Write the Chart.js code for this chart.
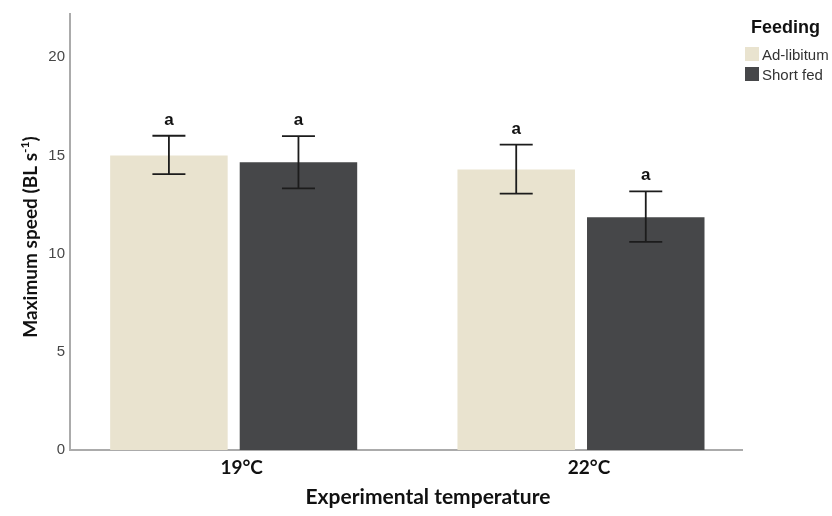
<!DOCTYPE html>
<html>
<head>
<meta charset="utf-8">
<script src="https://cdn.jsdelivr.net/npm/chart.js@4.4.1/dist/chart.umd.min.js"></script>
<style>
  html, body { margin: 0; padding: 0; background: #ffffff; }
  #wrap { width: 832px; height: 516px; }
</style>
</head>
<body>
<div id="wrap"><canvas id="chart" width="832" height="516"></canvas></div>
<script>
// Group means, 95% CI limits and significance letters
const categories = ['19°C', '22°C'];
const seriesNames = ['Ad-libitum', 'Short fed'];
const seriesColors = ['#E9E3CF', '#464749'];
const adLibitum = [15.0, 14.28];
const shortFed = [14.65, 11.85];
const adLibitumUpper = [16.0, 15.55];
const adLibitumLower = [14.05, 13.05];
const shortFedUpper = [15.98, 13.17];
const shortFedLower = [13.32, 10.6];
const adLibitumLetters = ['a', 'a'];
const shortFedLetters = ['a', 'a'];
const yTicks = [0, 5, 10, 15, 20];
const yMax = 22.2;
const xTitle = 'Experimental temperature';
const yTitleParts = ['Maximum speed (BL s', '-1', ')'];
const legendTitle = 'Feeding';

const TITLE_FONT = 'Lato';
const BODY_FONT = '"Liberation Sans", Arial, sans-serif';

function makeSeries(name, color, values, upper, lower, letters) {
  return {
    label: name,
    data: categories.map((c, i) => ({ x: i, y: values[i] })),
    backgroundColor: color,
    borderWidth: 0,
    categoryPercentage: 0.746,
    barPercentage: 0.907,
    upper: upper,
    lower: lower,
    letters: letters
  };
}

const datasets = [
  makeSeries(seriesNames[0], seriesColors[0], adLibitum, adLibitumUpper, adLibitumLower, adLibitumLetters),
  makeSeries(seriesNames[1], seriesColors[1], shortFed, shortFedUpper, shortFedLower, shortFedLetters)
];

// Error bars, letters, legend and axis titles
const decorations = {
  id: 'decorations',
  afterDatasetsDraw(chart) {
    const ctx = chart.ctx;
    const ys = chart.scales.y;
    chart.data.datasets.forEach((ds, di) => {
      const meta = chart.getDatasetMeta(di);
      meta.data.forEach((bar, i) => {
        const top = ys.getPixelForValue(ds.upper[i]);
        const bot = ys.getPixelForValue(ds.lower[i]);
        const cap = 16.5;
        ctx.save();
        ctx.strokeStyle = '#1c1c1c';
        ctx.lineWidth = 1.8;
        ctx.beginPath();
        ctx.moveTo(bar.x, top); ctx.lineTo(bar.x, bot);
        ctx.moveTo(bar.x - cap, top); ctx.lineTo(bar.x + cap, top);
        ctx.moveTo(bar.x - cap, bot); ctx.lineTo(bar.x + cap, bot);
        ctx.stroke();
        ctx.fillStyle = '#111111';
        ctx.font = 'bold 17px ' + BODY_FONT;
        ctx.textAlign = 'center';
        ctx.textBaseline = 'alphabetic';
        ctx.fillText(ds.letters[i], bar.x, top - 11);
        ctx.restore();
      });
    });
  },
  afterDraw(chart) {
    const ctx = chart.ctx;
    ctx.save();

    // legend
    ctx.fillStyle = '#111111';
    ctx.font = 'bold 18px ' + BODY_FONT;
    ctx.textAlign = 'left';
    ctx.textBaseline = 'alphabetic';
    ctx.fillText(legendTitle, 751, 33);
    chart.data.datasets.forEach((ds, i) => {
      const y0 = 47 + i * 20;
      ctx.fillStyle = ds.backgroundColor;
      ctx.fillRect(745, y0, 14, 14);
      ctx.fillStyle = '#333333';
      ctx.font = '15px ' + BODY_FONT;
      ctx.fillText(ds.label, 762, y0 + 13);
    });

    // x axis title
    ctx.fillStyle = '#111111';
    ctx.font = 'bold 21px ' + TITLE_FONT;
    ctx.textAlign = 'center';
    ctx.fillText(xTitle, 428, 504);

    // y axis title with superscript
    const mainFont = 'bold 19px ' + TITLE_FONT;
    const supFont = 'bold 12px ' + TITLE_FONT;
    ctx.font = mainFont;
    const w0 = ctx.measureText(yTitleParts[0]).width;
    const w2 = ctx.measureText(yTitleParts[2]).width;
    ctx.font = supFont;
    const w1 = ctx.measureText(yTitleParts[1]).width;
    const total = w0 + w1 + w2;
    ctx.translate(37, 237);
    ctx.rotate(-Math.PI / 2);
    ctx.textAlign = 'left';
    let x = -total / 2;
    ctx.font = mainFont;
    ctx.fillText(yTitleParts[0], x, 0);
    x += w0;
    ctx.font = supFont;
    ctx.fillText(yTitleParts[1], x, -8);
    x += w1;
    ctx.font = mainFont;
    ctx.fillText(yTitleParts[2], x, 0);
    ctx.restore();
  }
};

new Chart(document.getElementById('chart'), {
  type: 'bar',
  data: { datasets: datasets },
  plugins: [decorations],
  options: {
    responsive: false,
    devicePixelRatio: 1,
    animation: false,
    layout: { padding: { top: 9, right: 90, left: 0, bottom: 0 } },
    plugins: { legend: { display: false }, tooltip: { enabled: false } },
    scales: {
      x: {
        type: 'linear',
        offset: false,
        min: -0.4713,
        max: 1.4636,
        grid: { display: false, drawTicks: false, offset: false },
        border: { display: true, color: '#ABABAB', width: 2 },
        ticks: {
          color: '#111111',
          font: { family: TITLE_FONT, weight: 'bold', size: 19 },
          padding: 6,
          labelOffset: 8,
          callback: (v) => categories[v] !== undefined ? categories[v] : ''
        },
        afterBuildTicks: (s) => { s.ticks = categories.map((c, i) => ({ value: i })); },
        afterFit: (s) => { s.height = 66; }
      },
      y: {
        min: 0,
        max: yMax,
        grid: { display: false, drawTicks: false },
        border: { display: true, color: '#ABABAB', width: 2 },
        ticks: {
          color: '#474747',
          font: { family: 'Liberation Sans', size: 15 },
          padding: 5
        },
        afterBuildTicks: (s) => { s.ticks = yTicks.map((v) => ({ value: v })); },
        afterFit: (s) => { s.width = 70; }
      }
    }
  }
});
</script>
</body>
</html>
